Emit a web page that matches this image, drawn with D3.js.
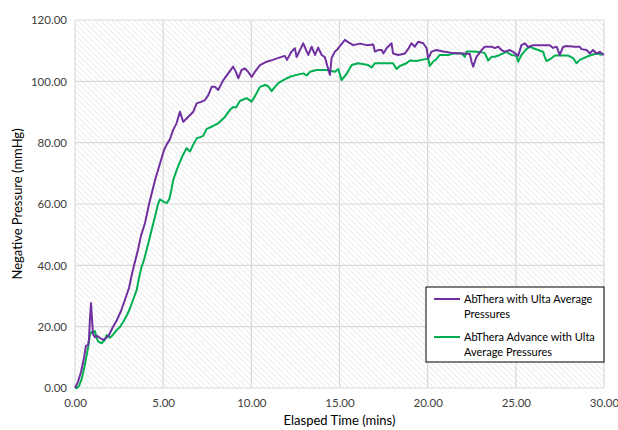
<!DOCTYPE html>
<html>
<head>
<meta charset="utf-8">
<script src="https://cdn.jsdelivr.net/npm/d3@7"></script>
<style>
  html, body { margin: 0; padding: 0; background: #fff; }
  svg { display: block; font-family: Lato, "Open Sans", sans-serif; }
</style>
</head>
<body>
<svg id="chart" width="618" height="430"></svg>
<script>
// Elapsed time (minutes) and negative pressure (mmHg) per series
const abTheraTime = [0,0.17,0.34,0.51,0.62,0.74,0.79,0.85,0.91,0.96,1.02,1.13,1.25,1.42,1.59,1.76,1.93,2.15,2.38,2.61,2.83,3.06,3.23,3.34,3.57,3.74,3.97,4.20,4.37,4.54,4.71,4.93,5.05,5.22,5.39,5.56,5.76,5.95,6.14,6.33,6.71,6.90,7.18,7.37,7.56,7.75,7.94,8.12,8.41,8.69,8.97,9.13,9.26,9.45,9.64,9.82,10.02,10.20,10.49,10.87,11.22,11.62,11.90,12.02,12.28,12.47,12.57,12.94,13.23,13.42,13.61,13.79,13.99,14.17,14.36,14.46,14.55,14.74,14.85,15.02,15.31,15.49,15.78,16.16,16.55,16.91,17.01,17.19,17.40,17.49,17.67,17.95,18.04,18.33,18.71,18.89,19.08,19.27,19.46,19.75,19.94,20.03,20.22,20.50,20.88,21.45,22.01,22.39,22.49,22.58,22.77,23.06,23.24,23.62,23.81,24.00,24.19,24.38,24.66,24.85,25.13,25.32,25.51,25.70,25.98,26.55,26.93,27.11,27.31,27.49,27.68,27.87,28.34,28.63,28.72,29.01,29.20,29.38,29.57,29.76,29.99];
const abTheraPressure = [0,2.0,5.2,9.8,13.7,14.0,15.7,22.8,27.7,22.8,17.6,16.6,17.0,16.3,15.7,16.3,17.3,19.9,22.2,25.1,28.7,32.6,37.2,39.8,45.0,49.6,53.8,60.0,63.9,67.8,71.1,75.3,77.6,79.6,81.2,84.1,86.3,90.1,86.8,87.9,90.1,92.8,93.4,93.9,95.5,98.2,98.2,97.2,100.4,102.6,104.8,103.0,101.0,103.7,104.2,103.1,101.4,103.1,105.3,106.4,107.0,107.8,108.3,107.0,109.7,110.8,107.9,112.4,108.6,111.3,108.6,111.0,108.6,107.9,104.0,102.1,107.6,109.7,110.2,111.5,113.5,112.8,111.8,112.3,111.8,112.0,109.7,110.2,110.2,109.1,110.8,112.4,109.1,108.6,109.1,110.5,112.4,111.3,112.9,112.4,110.8,107.5,109.7,110.2,109.7,109.2,109.1,108.9,106.4,104.8,108.0,110.2,111.3,111.3,110.8,111.3,110.2,109.7,110.2,109.6,108.3,111.8,112.4,111.2,111.8,111.8,111.8,110.9,111.3,108.6,111.2,111.5,111.3,111.3,110.5,110.2,109.1,110.2,109.1,109.6,108.6];

const advanceTime = [0,0.11,0.23,0.38,0.57,0.75,0.85,0.95,1.04,1.13,1.23,1.32,1.51,1.70,1.80,1.98,2.15,2.36,2.55,2.74,2.95,3.12,3.29,3.50,3.63,3.78,3.91,4.06,4.25,4.37,4.54,4.72,4.82,5.01,5.20,5.35,5.44,5.57,5.77,5.95,6.12,6.33,6.52,6.69,6.90,7.09,7.27,7.47,7.75,8.12,8.32,8.50,8.79,8.97,9.13,9.35,9.73,10.02,10.20,10.49,10.77,10.94,11.15,11.34,11.53,11.81,12.19,12.57,12.94,13.14,13.32,13.70,14.27,14.74,14.93,15.12,15.40,15.69,16.06,16.63,16.82,17.01,17.67,18.04,18.23,18.42,18.80,18.99,19.37,19.65,20.03,20.12,20.31,20.50,20.69,21.16,21.45,21.92,22.11,22.21,22.58,22.96,23.24,23.43,23.62,23.81,24.09,24.47,24.75,25.04,25.13,25.32,25.60,25.79,25.98,26.27,26.55,26.64,26.74,27.02,27.21,27.59,27.97,28.25,28.44,28.63,29.01,29.29,29.57,29.86,29.99];
const advancePressure = [0,0,0.7,2.9,7.8,13.4,17.6,18.3,17.9,18.6,16.3,15.1,14.6,15.7,17.3,16.4,17.3,18.9,19.9,21.6,23.8,26.0,28.7,32.0,35.9,39.6,41.7,45.0,49.3,52.2,55.9,60.2,61.5,60.8,60.3,61.6,63.9,67.8,71.1,73.7,76.0,78.2,77.1,79.2,81.4,81.8,82.2,84.5,85.2,86.3,87.4,88.4,90.7,91.6,91.5,93.6,94.5,93.4,95.1,98.2,98.8,98.5,96.8,98.2,99.4,100.4,101.5,102.1,102.6,101.9,103.1,103.7,103.7,103.1,104.0,100.4,102.4,105.3,105.9,105.3,104.5,105.9,105.9,105.9,104.0,105.0,105.9,106.8,106.6,107.0,107.4,105.0,106.4,107.3,108.6,108.6,109.1,109.1,108.0,109.7,109.7,109.6,109.2,106.8,108.0,108.0,108.6,109.6,108.6,108.3,106.4,108.6,110.5,111.3,110.8,110.2,109.6,108.0,106.6,107.5,108.4,108.4,108.4,107.6,105.9,107.0,108.0,108.6,109.1,108.7,108.9];

const seriesNames = ["AbThera with Ulta Average Pressures", "AbThera Advance with Ulta Average Pressures"];
const seriesColors = ["#7030a0", "#00b050"];
const xTicks = [0, 5, 10, 15, 20, 25, 30];
const yTicks = [0, 20, 40, 60, 80, 100, 120];

const series = [
  { name: seriesNames[0], color: seriesColors[0], points: abTheraTime.map((t, i) => [t, abTheraPressure[i]]) },
  { name: seriesNames[1], color: seriesColors[1], points: advanceTime.map((t, i) => [t, advancePressure[i]]) }
];

const svg = d3.select("#chart");
const margin = { left: 75, right: 14, top: 20, bottom: 42 };
const W = 618, H = 430;
const x = d3.scaleLinear().domain([0, 30]).range([margin.left, W - margin.right]);
const y = d3.scaleLinear().domain([0, 120]).range([H - margin.bottom, margin.top]);

// Diagonal hatch fill for the plot area
const defs = svg.append("defs");
const pat = defs.append("pattern")
  .attr("id", "hatch").attr("patternUnits", "userSpaceOnUse")
  .attr("width", 4).attr("height", 4)
  .attr("patternTransform", "rotate(-45)");
pat.append("rect").attr("width", 4).attr("height", 4).attr("fill", "#ffffff");
pat.append("line").attr("x1", 0).attr("y1", 0).attr("x2", 0).attr("y2", 4)
  .attr("stroke", "#ececec").attr("stroke-width", 2);

svg.append("rect")
  .attr("x", x(0)).attr("y", y(120))
  .attr("width", x(30) - x(0)).attr("height", y(0) - y(120))
  .attr("fill", "url(#hatch)");

// Gridlines
const grid = svg.append("g").attr("stroke", "#d9d9d9").attr("stroke-width", 1.2);
grid.selectAll("line.h").data(yTicks).join("line")
  .attr("x1", x(0)).attr("x2", x(30))
  .attr("y1", d => y(d)).attr("y2", d => y(d));
grid.selectAll("line.v").data(xTicks).join("line")
  .attr("y1", y(0)).attr("y2", y(120))
  .attr("x1", d => x(d)).attr("x2", d => x(d));

// Axes
const yAxis = svg.append("g").attr("transform", `translate(${x(0)},0)`)
  .call(d3.axisLeft(y).tickValues(yTicks).tickFormat(d3.format(".2f")).tickSize(0).tickPadding(8));
const xAxis = svg.append("g").attr("transform", `translate(0,${y(0)})`)
  .call(d3.axisBottom(x).tickValues(xTicks).tickFormat(d3.format(".2f")).tickSize(0).tickPadding(11));
[yAxis, xAxis].forEach(a => {
  a.select(".domain").remove();
  a.selectAll("text").attr("font-family", "Lato, sans-serif").attr("font-size", 11.5).attr("fill", "#404040");
});

// Series lines
const line = d3.line().x(d => x(d[0])).y(d => y(d[1]));
svg.append("g").selectAll("path").data(series.slice().reverse()).join("path")
  .attr("d", d => line(d.points))
  .attr("fill", "none")
  .attr("stroke", d => d.color)
  .attr("stroke-width", 2)
  .attr("stroke-linejoin", "round");

// Axis titles
svg.append("text")
  .attr("transform", `translate(22,${(y(0) + y(120)) / 2}) rotate(-90)`)
  .attr("text-anchor", "middle")
  .attr("font-size", 13).attr("fill", "#000")
  .text("Negative Pressure (mmHg)");
svg.append("text")
  .attr("x", (x(0) + x(30)) / 2).attr("y", 425)
  .attr("text-anchor", "middle")
  .attr("font-size", 13).attr("fill", "#000")
  .text("Elasped Time (mins)");

// Legend
const lg = svg.append("g").attr("transform", "translate(426,287)");
lg.append("rect").attr("width", 178).attr("height", 75)
  .attr("fill", "#fff").attr("stroke", "#000").attr("stroke-width", 1);
const legendLines = [
  ["AbThera with Ulta Average", "Pressures"],
  ["AbThera Advance with Ulta", "Average Pressures"]
];
series.forEach((s, i) => {
  const gy = 12 + i * 38;
  lg.append("line").attr("x1", 8).attr("x2", 34).attr("y1", gy).attr("y2", gy)
    .attr("stroke", s.color).attr("stroke-width", 2);
  const t = lg.append("text").attr("x", 38).attr("y", gy + 4)
    .attr("font-size", 11).attr("fill", "#000");
  legendLines[i].forEach((ln, j) => {
    t.append("tspan").attr("x", 38).attr("dy", j === 0 ? 0 : 14.5).text(ln);
  });
});
</script>
</body>
</html>
